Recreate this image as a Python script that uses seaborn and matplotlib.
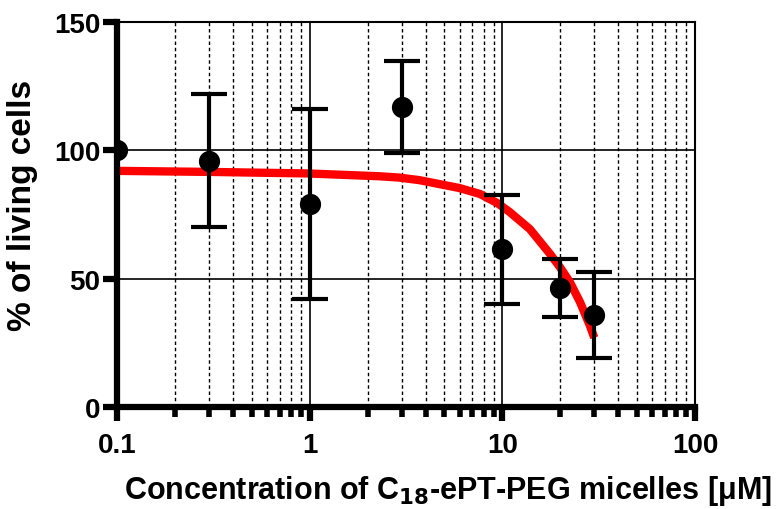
import numpy as np
import pandas as pd
import seaborn as sns
import matplotlib
matplotlib.use("Agg")
import matplotlib.pyplot as plt
from matplotlib.ticker import FixedLocator, NullFormatter

# ---- data ----
conc = [0.1, 0.3, 1, 3, 10, 20, 30]
viability = [100, 96, 79, 117, 61.5, 46.5, 36]
err_low = [0, 26, 37, 18, 21.5, 11.5, 17]
err_high = [0, 26, 37, 18, 21, 11, 16.5]

fit_x = [0.1, 0.3, 0.97, 2.3, 2.9, 3.7, 6.0, 7.65, 8.6, 9.4, 10.9, 13.9,
         17.7, 19.9, 22.4, 25.3, 28.5, 30]
fit_y = [92, 91.6, 91, 89.9, 89.4, 88.4, 85.3, 83, 81, 79.5, 76, 69.3,
         59.6, 54.5, 48.7, 40.9, 31.6, 27]

y_ticks = [0, 50, 100, 150]
x_ticks = [0.1, 1, 10, 100]
x_tick_labels = ["0.1", "1", "10", "100"]

sns.set_theme(style="white")
plt.rcParams['font.family'] = ['Liberation Sans', 'DejaVu Sans']
plt.rcParams['font.weight'] = 'bold'
plt.rcParams['text.color'] = 'black'
plt.rcParams['axes.labelcolor'] = 'black'
plt.rcParams['xtick.color'] = 'black'
plt.rcParams['ytick.color'] = 'black'

fig = plt.figure(figsize=(7.77, 5.10), dpi=100)
ax = fig.add_axes([117/777, 1 - 408/510, (695 - 117)/777, (408 - 23)/510])

pts = pd.DataFrame({"conc": conc, "viability": viability})
fit = pd.DataFrame({"conc": fit_x, "viability": fit_y})

ax.set_xscale("log")
ax.set_xlim(0.1, 100)
ax.set_ylim(0, 150)

# grid
minor = [m * d for d in [0.1, 1, 10] for m in range(2, 10)]
for xv in minor:
    ax.axvline(xv, color="black", lw=1.0, ls=(0, (2.5, 2)), zorder=1)
for xv in [1, 10]:
    ax.axvline(xv, color="black", lw=1.2, zorder=1)
for yv in [50, 100]:
    ax.axhline(yv, color="black", lw=1.2, zorder=1)

sns.lineplot(data=fit, x="conc", y="viability", ax=ax, color="#ff0000",
             lw=6, zorder=3, legend=False, solid_joinstyle="round",
             solid_capstyle="butt")
ax.errorbar(conc[1:], viability[1:], yerr=[err_low[1:], err_high[1:]],
            fmt="none", ecolor="black", elinewidth=3, capsize=13,
            capthick=3, zorder=4)
sns.scatterplot(data=pts, x="conc", y="viability", ax=ax, color="black",
                s=200, edgecolor="black", zorder=5, legend=False)

# spines
for s in ["left", "bottom"]:
    ax.spines[s].set_linewidth(4.5)
    ax.spines[s].set_color("black")
for s in ["top", "right"]:
    ax.spines[s].set_linewidth(1.5)
    ax.spines[s].set_color("black")
ax.spines["left"].set_zorder(6)
ax.spines["bottom"].set_zorder(6)

ax.xaxis.set_major_locator(FixedLocator(x_ticks))
ax.set_xticklabels(x_tick_labels)
ax.xaxis.set_minor_locator(FixedLocator(minor))
ax.xaxis.set_minor_formatter(NullFormatter())
ax.set_yticks(y_ticks)
ax.set_yticklabels([str(v) for v in y_ticks])

ax.tick_params(axis="x", which="major", direction="out", length=10, width=4.5,
               labelsize=20, pad=8, bottom=True, color="black",
               labelcolor="black")
ax.tick_params(axis="x", which="minor", direction="out", length=7, width=4,
               bottom=True, color="black")
ax.tick_params(axis="y", which="major", direction="out", length=10, width=4.5,
               labelsize=20, pad=2, left=True, color="black",
               labelcolor="black")
for lbl in ax.get_xticklabels() + ax.get_yticklabels():
    lbl.set_fontweight("bold")

ax.set_xlabel("Concentration of C$_{\\mathbf{18}}$-ePT-PEG micelles [\u03bcM]",
              fontsize=22, fontweight="bold", color="black")
ax.xaxis.set_label_coords(0.572, -0.172)
ax.set_ylabel("% of living cells", fontsize=24, fontweight="bold",
              color="black")
ax.yaxis.set_label_coords(-0.137, 0.527)

fig.savefig("out.png", dpi=100)
